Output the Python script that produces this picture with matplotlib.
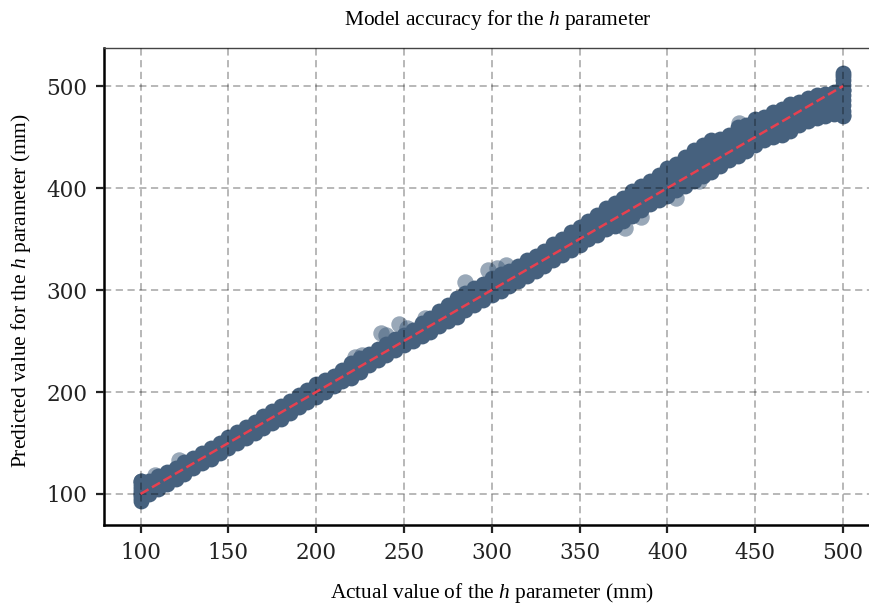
import matplotlib
matplotlib.use("Agg")
import matplotlib.pyplot as plt

plt.rcParams['mathtext.fontset'] = 'custom'
plt.rcParams['mathtext.it'] = 'Liberation Serif:italic'
plt.rcParams['mathtext.rm'] = 'Liberation Serif'

# values
actual = [100, 105, 110, 115, 120, 125, 130, 135, 140, 145, 150, 155, 160, 165, 170, 175, 180,
          185, 190, 195, 200, 205, 210, 215, 220, 225, 230, 235, 240, 245, 250, 255, 260, 265,
          270, 275, 280, 285, 290, 295, 300, 305, 310, 315, 320, 325, 330, 335, 340, 345, 350,
          355, 360, 365, 370, 375, 380, 385, 390, 395, 400, 405, 410, 415, 420, 425, 430, 435,
          440, 445, 450, 455, 460, 465, 470, 475, 480, 485, 490, 495, 500]
pred_high = [113, 113, 118, 122, 125, 131, 135, 140, 145, 150, 156, 161, 166, 171, 176, 181, 186,
             191, 197, 202, 208, 212, 216, 222, 228, 233, 237, 242, 247, 252, 256, 261, 268, 273,
             279, 285, 292, 297, 302, 306, 312, 316, 319, 324, 329, 333, 338, 345, 350, 357, 362,
             368, 374, 380, 385, 390, 397, 402, 407, 413, 420, 424, 430, 437, 442, 447, 448, 452,
             460, 462, 468, 470, 475, 477, 482, 484, 488, 491, 492, 494, 496]
pred_low = [100, 100, 105, 110, 115, 120, 125, 130, 134, 140, 145, 150, 155, 160, 165, 170, 174,
            179, 185, 190, 195, 200, 206, 211, 214, 220, 226, 231, 236, 241, 246, 250, 255, 259,
            265, 270, 274, 280, 285, 290, 295, 299, 304, 309, 314, 319, 324, 329, 334, 339, 344,
            350, 354, 360, 363, 368, 373, 378, 384, 388, 392, 398, 402, 407, 412, 416, 422, 427,
            431, 436, 442, 447, 450, 452, 456, 462, 466, 469, 471, 473, 472]
strip_100 = [93, 96, 99, 102, 105, 108, 111, 113]
strip_500 = [471, 476, 481, 486, 491, 496, 501, 506, 510, 513]
outlier_x = [108, 122, 222, 226, 237, 240, 247, 252, 262, 285, 298, 303, 308, 376, 385, 405, 418, 441, 470]
outlier_y = [119, 133, 234, 236, 258, 256, 267, 263, 273, 308, 320, 322, 325, 361, 372, 390, 407, 464, 478]
line_x = [100, 500]
line_y = [100, 500]
x_ticks = [100, 150, 200, 250, 300, 350, 400, 450, 500]
y_ticks = [100, 200, 300, 400, 500]

band_color = '#46617e'

fig = plt.figure(figsize=(8.69, 6.04), dpi=100)
ax = fig.add_axes([104 / 869, 1 - 525 / 604, 765 / 869, 477 / 604])

ax.scatter(outlier_x, outlier_y, s=140, color=band_color, alpha=0.55, linewidths=0, zorder=2)
ax.fill_between(actual, pred_low, pred_high, color=band_color, linewidth=0, zorder=2)
ax.scatter(actual, pred_high, s=130, color=band_color, linewidths=0, zorder=2)
ax.scatter(actual, pred_low, s=130, color=band_color, linewidths=0, zorder=2)
ax.scatter([100] * len(strip_100), strip_100, s=130, color=band_color, linewidths=0, zorder=2)
ax.scatter([500] * len(strip_500), strip_500, s=130, color=band_color, linewidths=0, zorder=2)

ax.plot(line_x, line_y, color='#e8404f', linestyle='--', linewidth=1.8, zorder=4)

ax.set_xlim(79.2, 514.8)
ax.set_ylim(69.6, 537.3)
ax.set_xticks(x_ticks)
ax.set_yticks(y_ticks)
ax.grid(True, color='black', alpha=0.3, linestyle='--', linewidth=1.3, dashes=(4, 2.5), zorder=3)
ax.set_axisbelow(False)

ax.spines['right'].set_visible(False)
ax.spines['top'].set_linewidth(1.0)
ax.spines['top'].set_color('#444444')
ax.spines['left'].set_linewidth(1.8)
ax.spines['bottom'].set_linewidth(1.8)
ax.tick_params(length=6, width=1.6, labelsize=15.5, pad=6, colors='#222222')
for lab in ax.get_xticklabels() + ax.get_yticklabels():
    lab.set_family('DejaVu Serif')

fig.text(498 / 869, 1 - 20 / 604, r'Model accuracy for the $\mathit{h}$ parameter',
         family='Liberation Serif', fontsize=15.4, ha='center', va='center')
fig.text(492 / 869, 1 - 593 / 604, r'Actual value of the $\mathit{h}$ parameter (mm)',
         family='Liberation Serif', fontsize=15.4, ha='center', va='center')
fig.text(21 / 869, 1 - 291 / 604, r'Predicted value for the $\mathit{h}$ parameter (mm)',
         family='Liberation Serif', fontsize=15.4, ha='center', va='center', rotation=90)

fig.savefig('out.png', dpi=100)
